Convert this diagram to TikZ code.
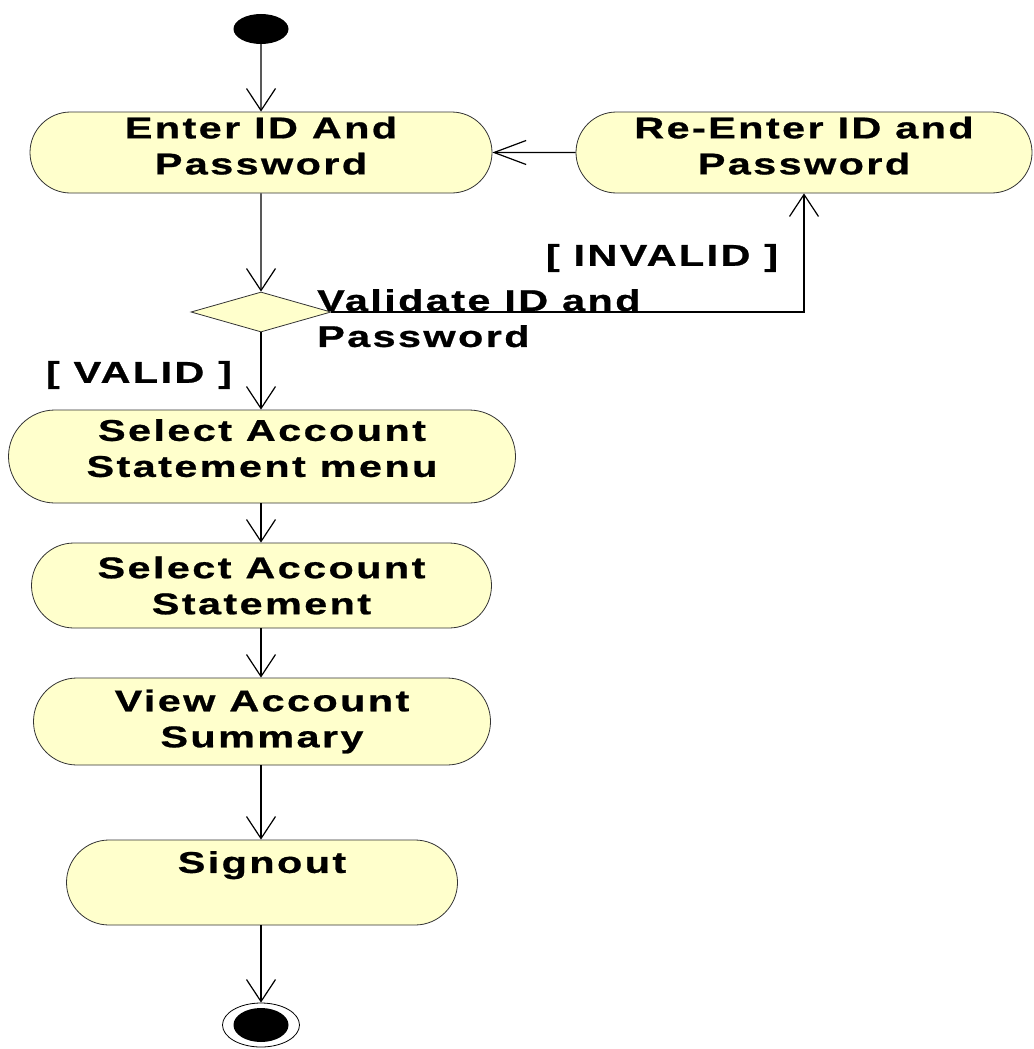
\documentclass[tikz,border=0pt]{standalone}
\usepackage{fontspec}
\setmainfont{Liberation Sans}[FakeStretch=1.38,LetterSpace=8,FakeBold=0.8]
\usetikzlibrary{shapes.misc,shapes.geometric,arrows.meta}
\definecolor{actfill}{HTML}{FFFFCC}

\begin{document}
\begin{tikzpicture}[x=1pt,y=-1pt]
		\tikzstyle{every node}+=[inner sep=0pt,font=\fontsize{30}{36}\selectfont\bfseries]
		\tikzstyle{activity}=[draw=black!80,fill=actfill,rounded rectangle,align=center,line width=0.8pt]
		\tikzstyle{flow}=[line width=1.2pt,-{Straight Barb[length=22pt,width=29pt]}]
		\tikzstyle{flowh}=[line width=1.2pt,-{Straight Barb[length=32pt,width=24pt]}]
		\useasboundingbox (0,0) rectangle (1033,1049);
		\node [ellipse,fill=black,minimum width=55pt,minimum height=30pt] (start) at (261,29) {};
		\node [activity,minimum width=462pt,minimum height=81pt] (enter) at (261,152.5) {Enter ID And\\Password\\[-22pt]\mbox{}};
		\node [activity,minimum width=456pt,minimum height=81pt] (reenter) at (804,152.5) {Re-Enter ID and\\Password\\[-22pt]\mbox{}};
		\node [diamond,draw=black!80,fill=actfill,line width=0.8pt,minimum width=140pt,minimum height=40pt] (dec) at (261,312) {};
		\node [anchor=north west,align=left] (valtext) at (317,289) {Validate ID and\\Password};
		\node (invalid) at (662,258) {[ INVALID ]};
		\node (valid) at (139,375) {[ VALID ]};
		\node [activity,minimum width=507pt,minimum height=93pt] (menu) at (262,456.5) {Select Account\\Statement menu\\[-19pt]\mbox{}};
		\node [activity,minimum width=460pt,minimum height=85pt] (stmt) at (261.5,585.5) {Select Account\\Statement};
		\node [activity,minimum width=457pt,minimum height=87pt] (view) at (262,721.5) {View Account\\Summary};
		\node [activity,minimum width=391pt,minimum height=85pt] (signout) at (262,882.5) {Signout\\[5pt]\mbox{}};
		\node [ellipse,draw,fill=white,line width=0.8pt,minimum width=77pt,minimum height=44pt] (final) at (261,1025) {};
		\node [ellipse,fill=black,minimum width=55pt,minimum height=34pt] (finaldot) at (final) {};
		\draw [flow] (start) -- (enter);
		\draw [flowh] (reenter) -- (enter);
		\draw [flow] (enter) -- (dec);
		\draw [flow] (dec.east) -| (reenter.south);
		\draw [flow] (dec.south) -- (dec.south |- menu.north);
		\draw [flow] (menu.south -| dec) -- (dec |- stmt.north);
		\draw [flow] (stmt.south -| dec) -- (dec |- view.north);
		\draw [flow] (view.south -| dec) -- (dec |- signout.north);
		\draw [flow] (signout.south -| dec) -- (final);
	\end{tikzpicture}
\end{document}
